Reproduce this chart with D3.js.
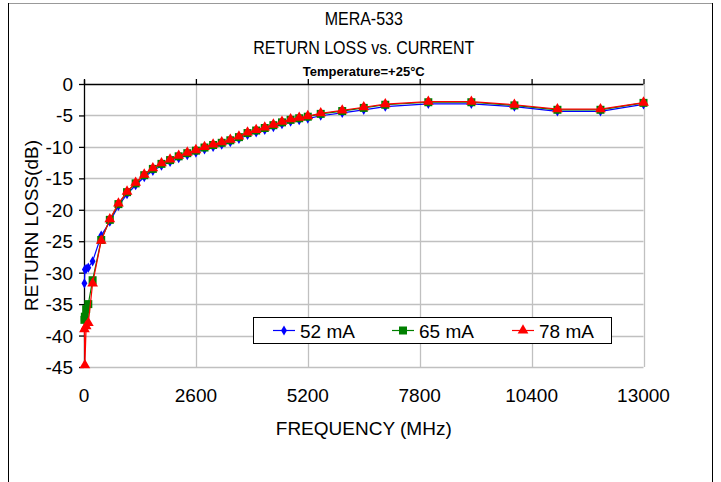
<!DOCTYPE html>
<html><head><meta charset="utf-8">
<script src="https://cdn.jsdelivr.net/npm/d3@7"></script>
<style>
body{margin:0;background:#fff;}
svg{display:block;font-family:"Liberation Sans",Arial,sans-serif;}
</style></head>
<body>
<svg id="c" width="721" height="482"></svg>
<script>
const freqs = [10,20,50,100,200,400,600,800,1000,1200,1400,1600,1800,2000,2200,2400,2600,2800,3000,3200,3400,3600,3800,4000,4200,4400,4600,4800,5000,5200,5500,6000,6500,7000,8000,9000,10000,11000,12000,13000];
const rl52 = [-31.7,-29.5,-29.4,-29.2,-28.2,-24.1,-21.9,-19.4,-17.5,-16.1,-14.8,-13.8,-13.0,-12.4,-11.8,-11.3,-10.9,-10.4,-10.0,-9.65,-9.25,-8.75,-8.1,-7.7,-7.3,-6.85,-6.4,-6.0,-5.75,-5.5,-5.05,-4.6,-4.1,-3.6,-3.15,-3.15,-3.6,-4.35,-4.35,-3.25];
const rl65 = [-37.5,-37.0,-35.8,-35.0,-31.2,-24.8,-21.6,-19.1,-17.2,-15.8,-14.5,-13.5,-12.7,-12.1,-11.5,-11.0,-10.6,-10.1,-9.7,-9.35,-8.95,-8.45,-7.8,-7.4,-7.0,-6.55,-6.1,-5.7,-5.45,-5.2,-4.75,-4.3,-3.8,-3.3,-2.9,-2.9,-3.4,-4.1,-4.1,-3.0];
const rl78 = [-39.0,-44.7,-38.5,-38.0,-31.7,-24.9,-21.5,-19.0,-17.1,-15.7,-14.4,-13.4,-12.6,-12.0,-11.4,-10.9,-10.5,-10.0,-9.6,-9.25,-8.85,-8.35,-7.7,-7.3,-6.9,-6.45,-6.0,-5.6,-5.35,-5.1,-4.65,-4.2,-3.7,-3.2,-2.8,-2.8,-3.3,-4.0,-4.0,-2.95];
const xTicks = [0,2600,5200,7800,10400,13000];
const yTicks = [0,-5,-10,-15,-20,-25,-30,-35,-40,-45];
const seriesNames = ["52 mA","65 mA","78 mA"];
const seriesColors = ["#0000FF","#008000","#FF0000"];
const seriesShapes = [d3.symbolDiamond, d3.symbolSquare, d3.symbolTriangle];
const seriesSizes = [30, 64, 50];

const svg = d3.select("#c");
const L=84, R=643.5, T=84, B=367;
const x = d3.scaleLinear().domain([0,13000]).range([L,R]);
const y = d3.scaleLinear().domain([0,-45]).range([T,B]);
const AX = 19; // axis font size

// outer frame
svg.append("line").attr("x1",8).attr("x2",713).attr("y1",3.5).attr("y2",3.5).attr("stroke","#999").attr("stroke-width",1);
svg.append("line").attr("x1",8.5).attr("x2",8.5).attr("y1",3).attr("y2",482).attr("stroke","#000").attr("stroke-width",1);
svg.append("line").attr("x1",712.5).attr("x2",712.5).attr("y1",3).attr("y2",482).attr("stroke","#000").attr("stroke-width",1);

// titles
const cx = (L+R)/2;
svg.append("text").attr("transform",`translate(${cx},25) scale(1,1.2)`).attr("text-anchor","middle").attr("font-size",16).text("MERA-533");
svg.append("text").attr("transform",`translate(${cx},54) scale(1,1.2)`).attr("text-anchor","middle").attr("font-size",16).text("RETURN LOSS vs. CURRENT");
svg.append("text").attr("x",cx).attr("y",76).attr("text-anchor","middle").attr("font-size",13).attr("font-weight","bold").text("Temperature=+25°C");

// gridlines
const g = svg.append("g");
g.selectAll(".hg").data(yTicks.filter(v=>v<0)).enter().append("line")
 .attr("x1",L).attr("x2",R).attr("y1",d=>Math.round(y(d))+0.5).attr("y2",d=>Math.round(y(d))+0.5)
 .attr("stroke","#c0c0c0").attr("stroke-width",1.3);
g.selectAll(".vg").data(xTicks.filter(v=>v>0)).enter().append("line")
 .attr("x1",d=>Math.round(x(d))+0.5).attr("x2",d=>Math.round(x(d))+0.5).attr("y1",T).attr("y2",B)
 .attr("stroke","#c0c0c0").attr("stroke-width",1.3);

// top x axis (crosses at 0) with ticks up
const xa = d3.axisTop(x).tickValues(xTicks).tickSize(5).tickFormat("");
svg.append("g").attr("transform",`translate(0,${T})`).call(xa)
 .call(s=>s.selectAll("line,path").attr("stroke","#000").attr("stroke-width",1.3))
 .call(s=>s.select(".domain").attr("d",`M${L},0.5H${R}`));

// left y axis
const ya = d3.axisLeft(y).tickValues(yTicks).tickSize(5).tickFormat("");
svg.append("g").attr("transform",`translate(${L},0)`).call(ya)
 .call(s=>s.selectAll("line,path").attr("stroke","#000").attr("stroke-width",1.3))
 .call(s=>s.select(".domain").attr("d",`M0.5,${T-4}V${B}`));

// tick labels
svg.selectAll(".yl").data(yTicks).enter().append("text")
 .attr("x",73).attr("y",d=>y(d)+7).attr("text-anchor","end").attr("font-size",AX).text(d=>d);
svg.selectAll(".xl").data(xTicks).enter().append("text")
 .attr("x",d=>x(d)).attr("y",402).attr("text-anchor","middle").attr("font-size",AX).text(d=>d);

// axis titles
svg.append("text").attr("x",cx).attr("y",435).attr("text-anchor","middle").attr("font-size",AX).text("FREQUENCY (MHz)");
svg.append("text").attr("transform",`translate(38,${(T+B)/2}) rotate(-90)`).attr("text-anchor","middle").attr("font-size",AX).text("RETURN LOSS(dB)");

// series
const allSeries = [rl52, rl65, rl78];
const line = d3.line().x(d=>x(d[0])).y(d=>y(d[1]));
allSeries.forEach((vals,i)=>{
  const pts = freqs.map((f,j)=>[f,vals[j]]);
  svg.append("path").datum(pts).attr("d",line).attr("fill","none").attr("stroke",seriesColors[i]).attr("stroke-width",1.2);
  svg.append("g").selectAll("path").data(pts).enter().append("path")
   .attr("d",d3.symbol().type(seriesShapes[i]).size(seriesSizes[i]))
   .attr("transform",d=>`translate(${x(d[0])},${y(d[1])})`)
   .attr("fill",seriesColors[i]);
});

// legend
const lg = svg.append("g");
lg.append("rect").attr("x",253.5).attr("y",317.5).attr("width",358).attr("height",26).attr("fill","#fff").attr("stroke","#000").attr("stroke-width",1);
const lx = [273,392,512];
seriesNames.forEach((n,i)=>{
  lg.append("line").attr("x1",lx[i]).attr("x2",lx[i]+22).attr("y1",330.5).attr("y2",330.5).attr("stroke",seriesColors[i]).attr("stroke-width",1.2);
  lg.append("path").attr("d",d3.symbol().type(seriesShapes[i]).size(seriesSizes[i]))
   .attr("transform",`translate(${lx[i]+11},330.5)`).attr("fill",seriesColors[i]);
  lg.append("text").attr("x",lx[i]+27).attr("y",337.5).attr("font-size",AX).text(n);
});
</script>
</body></html>
